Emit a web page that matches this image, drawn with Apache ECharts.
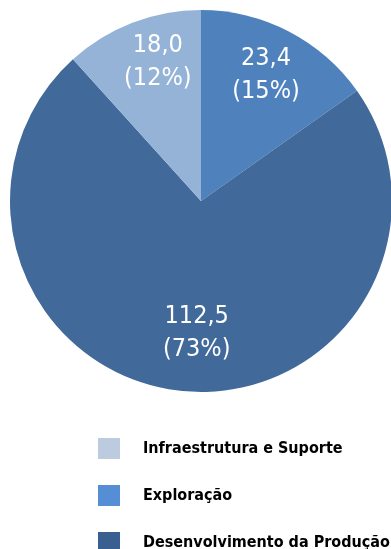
<!DOCTYPE html>
<html><head><meta charset="utf-8">
<script src="https://cdn.jsdelivr.net/npm/echarts@6/dist/echarts.min.js"></script>
<style>html,body{margin:0;padding:0;background:#fff}#c{width:391px;height:549px}</style>
</head><body><div id="c"></div>
<script>
// Data (clockwise from 12 o'clock)
const categories = ['Exploração', 'Desenvolvimento da Produção', 'Infraestrutura e Suporte'];
const values = [23.4, 112.5, 18.0];
const percents = ['15%', '73%', '12%'];
const legendOrder = ['Infraestrutura e Suporte', 'Exploração', 'Desenvolvimento da Produção'];

const sliceColors = ['#4F81BD', '#41699A', '#95B3D7'];
const legendColors = {'Infraestrutura e Suporte': '#BDCBE1', 'Exploração': '#558ED5', 'Desenvolvimento da Produção': '#385F90'};
const labelOffsets = [[-3, 5], [12, -15], [10, -1]];
const FONT = '"Liberation Sans Narrow", "Arial Narrow", "DejaVu Sans Condensed", sans-serif';

const fmt = v => v.toFixed(1).replace('.', ',');

const chart = echarts.init(document.getElementById('c'), null, {renderer: 'canvas'});
chart.setOption({
  animation: false,
  legend: {
    orient: 'vertical', left: 93, top: 433, height: 300,
    itemWidth: 22, itemHeight: 21, itemGap: 26, icon: 'rect',
    data: legendOrder.map(n => ({name: n, itemStyle: {color: legendColors[n]}})),
    textStyle: {fontFamily: FONT, fontSize: 16, fontWeight: 'bold', color: '#000', padding: [0, 0, 0, 18]},
    selectedMode: false
  },
  series: [{
    type: 'pie', center: [201, 201], radius: 191, startAngle: 90, clockwise: true,
    silent: true, label: {show: false}, labelLine: {show: false},
    data: categories.map((c, i) => ({name: c, value: values[i], itemStyle: {color: sliceColors[i]}}))
  }, {
    type: 'pie', center: [201, 201], radius: [100, 190], startAngle: 90, clockwise: true,
    silent: true, legendHoverLink: false,
    itemStyle: {color: 'rgba(0,0,0,0)'},
    labelLine: {show: false},
    label: {
      show: true, position: 'inside', color: '#fff', fontFamily: FONT, fontSize: 25, lineHeight: 33,
      formatter: p => fmt(values[p.dataIndex]) + '\n(' + percents[p.dataIndex] + ')'
    },
    data: categories.map((c, i) => ({name: c + ' ', value: values[i], label: {offset: labelOffsets[i]}}))
  }]
});
</script></body></html>
